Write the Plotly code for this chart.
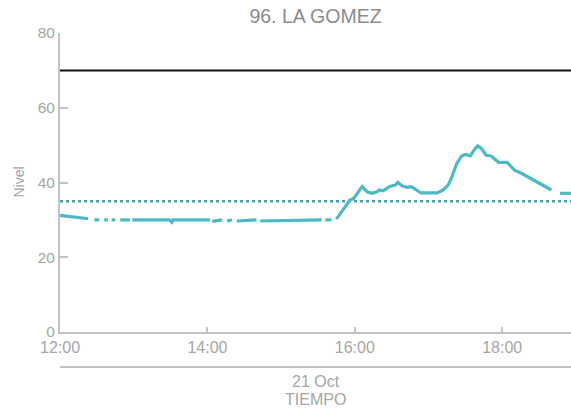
import plotly.graph_objects as go

DAY = "2023-10-21 "

# Measured level (None = gap in the record)
times = [
    "12:00", "12:06", "12:12", "12:18", "12:23", "12:25",
    "12:28", "12:32", "12:34",
    "12:36", "12:39", "12:40",
    "12:42", "12:45", "12:47",
    "12:49", "12:57", "12:58",
    "12:59", "13:29", "13:31", "13:32", "14:02", "14:03",
    "14:04", "14:12", "14:14",
    "14:16", "14:20", "14:22",
    "14:24", "14:40", "14:41",
    "14:43", "15:33", "15:34",
    "15:36", "15:41", "15:43",
    "15:45", "15:52", "15:56", "15:59", "16:06", "16:10", "16:14", "16:18",
    "16:20", "16:23", "16:29", "16:33", "16:35", "16:39", "16:43", "16:46",
    "16:54", "17:07", "17:12", "17:16", "17:19", "17:23", "17:27", "17:30",
    "17:34", "17:38", "17:40", "17:43", "17:47", "17:51", "17:57", "18:04",
    "18:10", "18:16", "18:21", "18:28", "18:33", "18:37", "18:40", "18:43",
    "18:47", "18:56", "19:00",
]
nivel = [
    31.2, 31.0, 30.6, 30.4, 30.3, None,
    30.0, 30.0, None,
    30.0, 30.0, None,
    30.0, 30.0, None,
    30.0, 30.0, None,
    30.0, 30.0, 29.4, 30.0, 30.0, None,
    29.6, 30.0, None,
    29.7, 30.0, None,
    29.7, 30.0, None,
    29.7, 30.0, None,
    30.0, 30.0, None,
    30.2, 33.5, 35.3, 35.7, 38.9, 37.5, 37.1, 37.5,
    38.0, 37.8, 39.0, 39.3, 40.0, 39.0, 38.7, 38.9,
    37.2, 37.2, 38.0, 39.3, 41.5, 45.1, 47.1, 47.5,
    47.1, 49.1, 49.8, 49.1, 47.3, 47.1, 45.4, 45.4,
    43.3, 42.4, 41.5, 40.2, 39.3, 38.6, 38.0, None,
    37.1, 37.1, 37.1,
]

ref_times = ["12:00", "19:00"]
upper_level = [70, 70]
mid_level = [35, 35]

x_range = ["12:00", "18:56"]
y_ticks = [0, 20, 40, 60, 80]

title = "96. LA GOMEZ"
y_title = "Nivel"
date_label = "21 Oct"
x_title = "TIEMPO"

FONT = "Liberation Sans, Arial, Helvetica, sans-serif"
AX = "#c4c4c4"
TXT = "#a6a6a6"

fig = go.Figure()
fig.add_trace(go.Scatter(
    x=[DAY + t for t in ref_times], y=upper_level, mode="lines",
    line=dict(color="#111111", width=2), hoverinfo="skip", showlegend=False))
fig.add_trace(go.Scatter(
    x=[DAY + t for t in ref_times], y=mid_level, mode="lines",
    line=dict(color="#4a9db3", width=2.5, dash="dot"), hoverinfo="skip", showlegend=False))
fig.add_trace(go.Scatter(
    x=[DAY + t for t in times], y=nivel, mode="lines",
    line=dict(color="#4cbac4", width=3.2), connectgaps=False, showlegend=False))

fig.update_layout(
    width=571, height=408,
    margin=dict(l=60, r=0, t=33, b=76, autoexpand=False),
    paper_bgcolor="white", plot_bgcolor="white",
    font=dict(family=FONT, color=TXT, size=14),
    title=dict(text=title, x=0.5, xref="paper", y=1 - 16 / 408, yref="container",
               xanchor="center", yanchor="middle",
               font=dict(size=19.5, color="#8c8c8c", family=FONT)),
    showlegend=False,
)
fig.update_xaxes(
    type="date", range=[DAY + x_range[0], DAY + x_range[1]],
    tick0=DAY + "12:00", dtick=2 * 3600 * 1000, tickformat="%H:%M",
    ticks="inside", ticklen=5, tickwidth=1.5, tickcolor=AX,
    showline=True, linecolor=AX, linewidth=2,
    showgrid=False, zeroline=False, automargin=False,
    tickfont=dict(size=16, color=TXT, family=FONT),
)
fig.update_yaxes(
    range=[0, 80], tickvals=y_ticks,
    ticks="inside", ticklen=8, tickwidth=1.5, tickcolor=AX,
    showline=True, linecolor=AX, linewidth=2,
    showgrid=False, zeroline=False, automargin=False,
    tickfont=dict(size=15.5, color=TXT, family=FONT),
)
fig.add_shape(type="line", xref="paper", yref="paper", x0=0, x1=1,
              y0=-35 / 299, y1=-35 / 299, line=dict(color=AX, width=2))
fig.add_annotation(text=date_label, xref="paper", yref="paper", x=0.5, y=-50 / 299,
                   showarrow=False, yanchor="middle", font=dict(size=16, color=TXT, family=FONT))
fig.add_annotation(text=x_title, xref="paper", yref="paper", x=0.5, y=-67 / 299,
                   showarrow=False, yanchor="middle", font=dict(size=16, color=TXT, family=FONT))
fig.add_annotation(text=y_title, xref="paper", yref="paper", x=-42 / 511, y=0.5,
                   textangle=-90, showarrow=False, xanchor="center", yanchor="middle",
                   font=dict(size=14, color=TXT, family=FONT))

fig.write_html(
    "out.html",
    config={"displayModeBar": False},
    post_script="document.body.style.margin='0';document.body.style.overflow='hidden';",
)
